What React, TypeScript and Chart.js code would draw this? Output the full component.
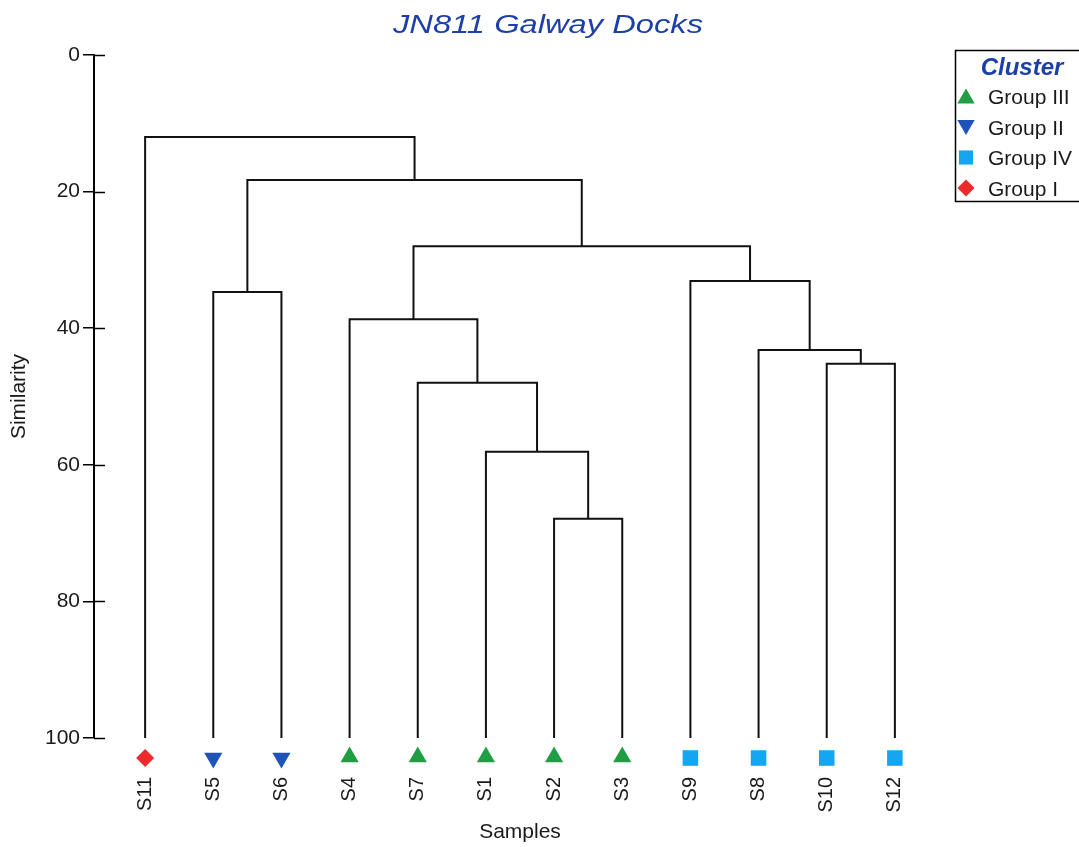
import React, { useEffect, useRef } from 'react';
import { Chart, registerables } from 'chart.js';

Chart.register(...registerables);

const TITLE = 'JN811 Galway Docks';
const X_TITLE = 'Samples';
const Y_TITLE = 'Similarity';
const LEGEND_TITLE = 'Cluster';

// leaf order along the x axis
const leaves = ['S11', 'S5', 'S6', 'S4', 'S7', 'S1', 'S2', 'S3', 'S9', 'S8', 'S10', 'S12'];
const leafGroups = ['Group I', 'Group II', 'Group II', 'Group III', 'Group III', 'Group III', 'Group III', 'Group III', 'Group IV', 'Group IV', 'Group IV', 'Group IV'];

// legend order
const groups = ['Group III', 'Group II', 'Group IV', 'Group I'];
const groupColors = ['#1f9e43', '#1f52bb', '#14a6f0', '#ef2a2c'];
const groupStyles = ['triangle', 'triangleDown', 'rect', 'rectRot'];

// merges: node ids 0..11 are leaves, 12.. are merges in this order
const mergeLeft = [6, 5, 4, 3, 10, 9, 8, 15, 1, 20, 0];
const mergeRight = [7, 12, 13, 14, 11, 16, 17, 18, 2, 19, 21];
const mergeHeight = [67.9, 58.1, 48.0, 38.7, 45.2, 43.2, 33.1, 28.0, 34.7, 18.3, 12.0];

const yTicks = [0, 20, 40, 60, 80, 100];
const LEAF_LEVEL = 100;
const MARKER_LEVEL = 102.93;

const FONT = '"Liberation Sans", Arial, Helvetica, sans-serif';
const TITLE_BLUE = '#1c3fa8';
const INK = '#1a1a1a';

function buildLinks() {
  const nx: number[] = leaves.map((_, i) => i);
  const ny: number[] = leaves.map(() => LEAF_LEVEL);
  const links: { x: number; y: number }[][] = [];
  mergeHeight.forEach((h, k) => {
    const l = mergeLeft[k];
    const r = mergeRight[k];
    links.push([
      { x: nx[l], y: ny[l] },
      { x: nx[l], y: h },
      { x: nx[r], y: h },
      { x: nx[r], y: ny[r] },
    ]);
    nx.push((nx[l] + nx[r]) / 2);
    ny.push(h);
  });
  return links;
}

function markerRadius(style: string) {
  if (style === 'rect') return 11;
  if (style === 'rectRot') return 9;
  return 10.5;
}

function drawMarker(ctx: CanvasRenderingContext2D, style: string, x: number, y: number, r: number) {
  ctx.beginPath();
  if (style === 'triangle') {
    ctx.moveTo(x, y - r);
    ctx.lineTo(x + r * 0.866, y + r * 0.5);
    ctx.lineTo(x - r * 0.866, y + r * 0.5);
  } else if (style === 'triangleDown') {
    ctx.moveTo(x, y + r);
    ctx.lineTo(x + r * 0.866, y - r * 0.5);
    ctx.lineTo(x - r * 0.866, y - r * 0.5);
  } else if (style === 'rect') {
    const s = r * Math.SQRT1_2;
    ctx.rect(x - s, y - s, 2 * s, 2 * s);
  } else {
    ctx.moveTo(x, y - r);
    ctx.lineTo(x + r, y);
    ctx.lineTo(x, y + r);
    ctx.lineTo(x - r, y);
  }
  ctx.closePath();
  ctx.fill();
}

const decorPlugin = {
  id: 'decor',
  afterDraw(chart: any) {
    const { ctx, chartArea, scales } = chart;
    const ys = scales.y;
    const xs = scales.x;
    ctx.save();
    // inner half of the y tick marks
    ctx.strokeStyle = '#000';
    ctx.lineWidth = 1.5;
    yTicks.forEach((v) => {
      const py = Math.round(ys.getPixelForValue(v)) + 0.5;
      ctx.beginPath();
      ctx.moveTo(chartArea.left, py);
      ctx.lineTo(chartArea.left + 11, py);
      ctx.stroke();
    });

    // leaf markers, placed through the scales
    leaves.forEach((_, i) => {
      const gi = groups.indexOf(leafGroups[i]);
      const st = groupStyles[gi];
      const px = xs.getPixelForValue(i);
      let py = ys.getPixelForValue(MARKER_LEVEL);
      if (st === 'triangle') py -= 1;
      ctx.fillStyle = groupColors[gi];
      drawMarker(ctx, st, px, py, markerRadius(st));
    });

    // title
    ctx.font = `italic 25px ${FONT}`;
    ctx.fillStyle = TITLE_BLUE;
    ctx.textAlign = 'center';
    ctx.textBaseline = 'alphabetic';
    const tw = ctx.measureText(TITLE).width;
    ctx.translate(548, 33);
    ctx.scale(310 / tw, 1);
    ctx.fillText(TITLE, 0, 0);
    ctx.setTransform(1, 0, 0, 1, 0, 0);

    // legend box
    ctx.strokeStyle = '#000';
    ctx.lineWidth = 1.5;
    ctx.strokeRect(955.5, 50.5, 140, 151);
    ctx.font = `bold italic 24px ${FONT}`;
    ctx.fillStyle = TITLE_BLUE;
    ctx.textAlign = 'center';
    ctx.fillText(LEGEND_TITLE, 1022, 75);
    ctx.font = `21px ${FONT}`;
    ctx.textAlign = 'left';
    groups.forEach((g, i) => {
      const cy = 96.5 + i * 30.5;
      const st = groupStyles[i];
      ctx.fillStyle = groupColors[i];
      drawMarker(ctx, st, 966, cy + (st === 'triangle' ? 2 : st === 'triangleDown' ? -2 : 0), st === 'rectRot' ? 8.5 : 10);
      ctx.fillStyle = INK;
      ctx.fillText(g, 988, cy + 7.5);
    });
    ctx.restore();
  },
};

export default function App() {
  const ref = useRef<HTMLCanvasElement | null>(null);

  useEffect(() => {
    document.body.style.margin = '0';
    const canvas = ref.current;
    if (!canvas) return;
    const links = buildLinks();
    const linkSets = links.map((pts) => ({
      data: pts,
      showLine: true,
      borderColor: '#111',
      borderWidth: 2,
      borderJoinStyle: 'miter' as const,
      pointRadius: 0,
      pointHoverRadius: 0,
      tension: 0,
      fill: false,
    }));

    const chart = new Chart(canvas, {
      type: 'scatter',
      data: { datasets: linkSets as any },
      options: {
        animation: false,
        responsive: true,
        maintainAspectRatio: false,
        events: [],
        layout: { padding: { top: 55, left: 0, right: 133, bottom: 0 } },
        plugins: {
          legend: { display: false },
          tooltip: { enabled: false },
          title: { display: false },
        },
        scales: {
          x: {
            type: 'linear',
            min: -0.75,
            max: 11.75,
            afterBuildTicks: (scale: any) => {
              scale.ticks = leaves.map((_, i) => ({ value: i }));
            },
            afterFit: (scale: any) => {
              scale.height = 109;
            },
            grid: { display: false, drawTicks: false },
            border: { display: false },
            ticks: {
              autoSkip: false,
              minRotation: 90,
              maxRotation: 90,
              padding: 39,
              color: INK,
              font: { family: FONT, size: 20 },
              callback: (v: any) => leaves[v as number] ?? '',
            },
            title: {
              display: true,
              text: X_TITLE,
              color: INK,
              font: { family: FONT, size: 21 },
              padding: { top: 0, bottom: 2 },
            },
          },
          y: {
            type: 'linear',
            reverse: true,
            min: 0,
            max: 100,
            afterBuildTicks: (scale: any) => {
              scale.ticks = yTicks.map((v) => ({ value: v }));
            },
            afterFit: (scale: any) => {
              scale.width = 94;
            },
            grid: { drawOnChartArea: false, tickLength: 11, color: '#000', lineWidth: 1.5 },
            border: { display: true, color: '#000', width: 2 },
            ticks: {
              padding: 3,
              color: INK,
              font: { family: FONT, size: 21 },
            },
            title: {
              display: true,
              text: Y_TITLE,
              color: INK,
              font: { family: FONT, size: 21 },
              padding: { top: 7, bottom: 0 },
            },
          },
        },
      },
      plugins: [decorPlugin],
    });
    return () => chart.destroy();
  }, []);

  return (
    <div style={{ position: 'relative', width: '1079px', height: '847px', overflow: 'hidden', background: '#fff' }}>
      <canvas ref={ref} />
    </div>
  );
}
